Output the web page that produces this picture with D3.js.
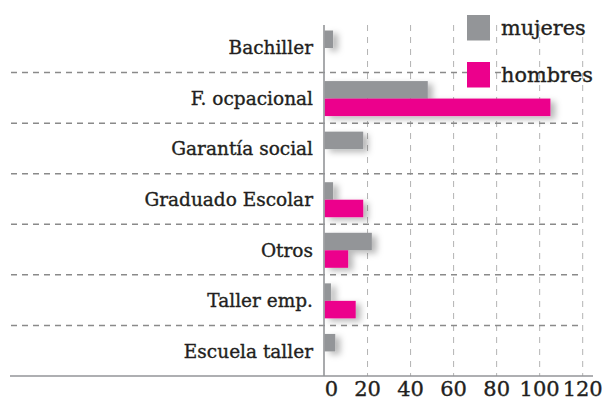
<!DOCTYPE html>
<html>
<head>
<meta charset="utf-8">
<script src="https://cdn.jsdelivr.net/npm/d3@7"></script>
<style>
  body { margin: 0; background: #fff; }
  svg { display: block; }
  text { font-family: "DejaVu Serif", serif; fill: #231f20; stroke: #231f20; stroke-width: 0.35px; }
</style>
</head>
<body>
<div id="chart"></div>
<script>
const categories = ["Bachiller", "F. ocpacional", "Garantía social", "Graduado Escolar", "Otros", "Taller emp.", "Escuela taller"];
const mujeres = [4, 48, 18, 4, 22, 3, 5];
const hombres = [0, 105, 0, 18, 11, 14.5, 0];
const seriesNames = ["mujeres", "hombres"];
const xTicks = [0, 20, 40, 60, 80, 100, 120];

const colors = { mujeres: "#939598", hombres: "#ec008c" };

const width = 606, height = 402;
const svg = d3.select("#chart").append("svg")
  .attr("width", width)
  .attr("height", height);

const defs = svg.append("defs");
const shadow = defs.append("filter").attr("id", "shadow")
  .attr("x", "-20%").attr("y", "-50%").attr("width", "160%").attr("height", "250%");
shadow.append("feDropShadow")
  .attr("dx", 5).attr("dy", 3).attr("stdDeviation", 3)
  .attr("flood-color", "#000").attr("flood-opacity", 0.28);

const x = d3.scaleLinear().domain([0, 120]).range([324.5, 582.7]);
const y = d3.scaleBand().domain(categories).range([22, 376]);
const sub = d3.scaleBand().domain(seriesNames).range([8.5, 43.5]);

// vertical dashed grid
svg.append("g")
  .selectAll("line")
  .data(xTicks.slice(1))
  .join("line")
  .attr("x1", d => x(d)).attr("x2", d => x(d))
  .attr("y1", 25).attr("y2", 376)
  .attr("stroke", "#b3b3b3")
  .attr("stroke-width", 1)
  .attr("stroke-dasharray", "6,6");

// horizontal separators between rows
svg.append("g")
  .selectAll("line")
  .data(categories.slice(1))
  .join("line")
  .attr("x1", 11).attr("x2", x(120))
  .attr("y1", d => y(d)).attr("y2", d => y(d))
  .attr("stroke", "#8a8a8a")
  .attr("stroke-width", 1.5)
  .attr("stroke-dasharray", "6,5");

// bars
const rows = categories.map((c, i) => ({ cat: c, mujeres: mujeres[i], hombres: hombres[i] }));
const barG = svg.append("g").attr("filter", "url(#shadow)");
rows.forEach(r => {
  seriesNames.forEach(s => {
    if (r[s] <= 0) return;
    barG.append("rect")
      .attr("x", x(0))
      .attr("y", y(r.cat) + sub(s))
      .attr("width", x(r[s]) - x(0))
      .attr("height", sub.bandwidth())
      .attr("fill", colors[s]);
  });
});

// axes lines
svg.append("line")
  .attr("x1", x(0) - 0.5).attr("x2", x(0) - 0.5)
  .attr("y1", 25).attr("y2", 376)
  .attr("stroke", "#939598").attr("stroke-width", 1.6);
svg.append("line")
  .attr("x1", 10).attr("x2", 593)
  .attr("y1", 376).attr("y2", 376)
  .attr("stroke", "#939598").attr("stroke-width", 1.6);

// category labels
svg.append("g")
  .selectAll("text")
  .data(categories)
  .join("text")
  .attr("x", 313)
  .attr("y", d => y(d) + y.bandwidth() / 2 + 7)
  .attr("text-anchor", "end")
  .style("font-size", "18.5px")
  .text(d => d);

// x tick labels
svg.append("g")
  .selectAll("text")
  .data(xTicks)
  .join("text")
  .attr("x", d => x(d) + (d === 0 ? 7 : 0))
  .attr("y", 396)
  .attr("text-anchor", "middle")
  .style("font-size", "21px")
  .text(d => d);

// legend
const legend = svg.append("g");
seriesNames.forEach((s, i) => {
  const ly = 15 + i * 47;
  legend.append("rect")
    .attr("x", 467).attr("y", ly)
    .attr("width", 23).attr("height", 25.5)
    .attr("fill", colors[s]);
  legend.append("text")
    .attr("x", 501).attr("y", ly + 19.5)
    .style("font-size", "20.8px")
    .text(s);
});
</script>
</body>
</html>
